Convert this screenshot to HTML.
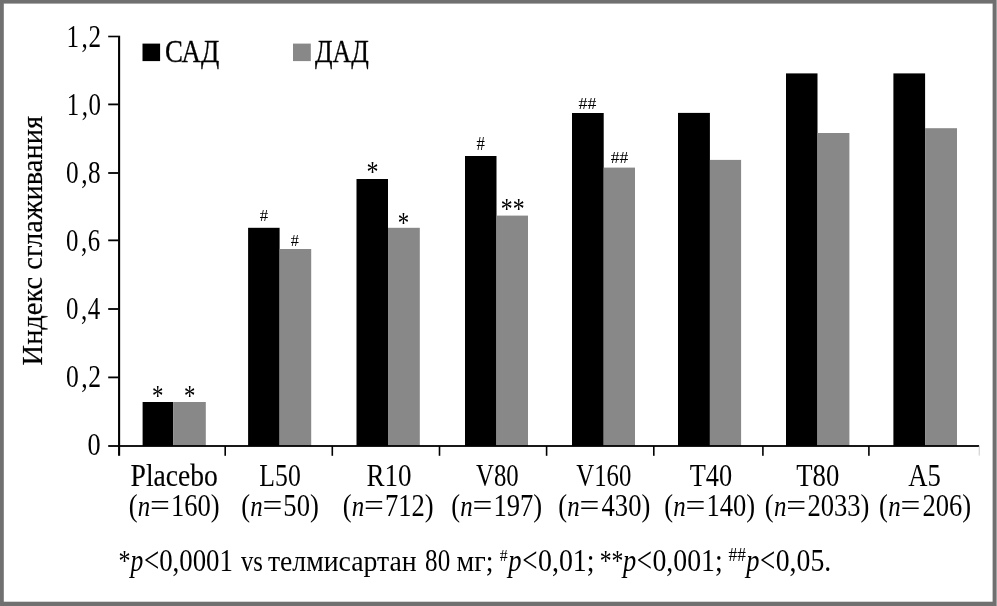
<!DOCTYPE html>
<html lang="ru"><head><meta charset="utf-8"><title>Индекс сглаживания</title>
<style>html,body{margin:0;padding:0;background:#fff}svg{display:block}</style></head>
<body>
<svg width="997" height="606" viewBox="0 0 997 606" font-family='"Liberation Serif", "Times New Roman", serif' fill="#000">
<rect x="0" y="0" width="997" height="606" fill="#707070"/>
<rect x="996" y="0" width="1" height="606" fill="#a3a3a3"/>
<rect x="3.8" y="3.6" width="988.8" height="598.1" fill="#fff"/>
<rect x="142.6" y="402.0" width="30.7" height="44.0" fill="#000"/>
<rect x="173.3" y="402.0" width="32.5" height="44.0" fill="#888"/>
<rect x="248.1" y="227.8" width="31.5" height="218.2" fill="#000"/>
<rect x="279.6" y="249.0" width="31.6" height="197.0" fill="#888"/>
<rect x="356.5" y="179.0" width="31.5" height="267.0" fill="#000"/>
<rect x="388.0" y="227.8" width="31.8" height="218.2" fill="#888"/>
<rect x="465.0" y="156.0" width="31.5" height="290.0" fill="#000"/>
<rect x="496.5" y="215.6" width="31.5" height="230.4" fill="#888"/>
<rect x="572.0" y="113.0" width="31.7" height="333.0" fill="#000"/>
<rect x="603.7" y="167.6" width="31.3" height="278.4" fill="#888"/>
<rect x="678.0" y="112.9" width="31.9" height="333.1" fill="#000"/>
<rect x="709.9" y="159.9" width="31.2" height="286.1" fill="#888"/>
<rect x="786.0" y="73.4" width="31.5" height="372.6" fill="#000"/>
<rect x="817.5" y="133.0" width="31.9" height="313.0" fill="#888"/>
<rect x="893.4" y="73.4" width="31.7" height="372.6" fill="#000"/>
<rect x="925.1" y="128.2" width="31.9" height="317.8" fill="#888"/>
<rect x="118.05" y="35.7" width="2.1" height="420.1" fill="#000"/>
<rect x="108.2" y="445.1" width="870.9" height="1.8" fill="#000"/>
<rect x="108.2" y="35.7" width="10" height="1.6" fill="#000"/>
<rect x="108.2" y="103.50" width="10" height="1.8" fill="#000"/>
<rect x="108.2" y="172.10" width="10" height="1.8" fill="#000"/>
<rect x="108.2" y="239.45" width="10" height="1.8" fill="#000"/>
<rect x="108.2" y="308.10" width="10" height="1.8" fill="#000"/>
<rect x="108.2" y="376.50" width="10" height="1.8" fill="#000"/>
<rect x="224.4" y="446" width="1.6" height="9.8" fill="#000"/>
<rect x="331.5" y="446" width="1.6" height="9.8" fill="#000"/>
<rect x="438.7" y="446" width="1.6" height="9.8" fill="#000"/>
<rect x="545.8" y="446" width="1.6" height="9.8" fill="#000"/>
<rect x="653.0" y="446" width="1.6" height="9.8" fill="#000"/>
<rect x="762.1" y="446" width="1.6" height="9.8" fill="#000"/>
<rect x="868.1" y="446" width="1.6" height="9.8" fill="#000"/>
<rect x="978.8" y="446" width="0.7" height="9.6" fill="#b4b4b4"/>
<rect x="142.5" y="43.6" width="17.6" height="17.5" fill="#000"/>
<rect x="293" y="43.6" width="17.8" height="17.5" fill="#888"/>
<text transform="translate(66.48,46.90) scale(0.7863,1)" font-size="32.00" dx="0 3.2 0.7">1,2</text>
<text transform="translate(66.76,114.80) scale(0.7775,1)" font-size="32.00" dx="0 3.2 0.7">1,0</text>
<text transform="translate(65.99,183.40) scale(0.7897,1)" font-size="32.00" dx="0 3.2 0.7">0,8</text>
<text transform="translate(66.00,250.80) scale(0.7764,1)" font-size="32.00" dx="0 3.2 0.7">0,6</text>
<text transform="translate(66.00,319.40) scale(0.7788,1)" font-size="32.00" dx="0 3.2 0.7">0,4</text>
<text transform="translate(65.97,387.40) scale(0.7997,1)" font-size="32.00" dx="0 3.2 0.7">0,2</text>
<text transform="translate(87.45,455.00) scale(0.8205,1)" font-size="32.00">0</text>
<text transform="translate(165.02,62.40) scale(0.8768,1)" font-size="30.60" stroke="#000" stroke-width="0.3">САД</text>
<text transform="translate(315.00,62.40) scale(0.8416,1)" font-size="30.60" stroke="#000" stroke-width="0.3">ДАД</text>
<text transform="translate(41.90,365.40) rotate(-90) scale(0.9485,1)" font-size="30.00" stroke="#000" stroke-width="0.2">Индекс сглаживания</text>
<text transform="translate(151.92,405.45) scale(0.7568,1)" font-size="30.20">*</text>
<text transform="translate(184.05,405.45) scale(0.7539,1)" font-size="30.20">*</text>
<text transform="translate(366.44,181.45) scale(0.7959,1)" font-size="30.20">*</text>
<text transform="translate(397.84,231.81) scale(0.7541,1)" font-size="30.21">*</text>
<text transform="translate(500.79,217.50) scale(0.8061,1)" font-size="29.51">**</text>
<text transform="translate(259.63,220.80) scale(0.9513,1)" font-size="17.62">#</text>
<text transform="translate(290.75,245.80) scale(0.9199,1)" font-size="17.62">#</text>
<text transform="translate(476.54,149.80) scale(0.9304,1)" font-size="18.00">#</text>
<text transform="translate(578.53,109.00) scale(1.0294,1)" font-size="17.24">##</text>
<text transform="translate(610.73,162.90) scale(1.0144,1)" font-size="17.24">##</text>
<text transform="translate(130.61,485.60) scale(0.8891,1)" font-size="31.00" stroke="#000" stroke-width="0.15">Placebo</text>
<text font-size="32.0"><tspan x="128.73" y="516.30" textLength="8.84" lengthAdjust="spacingAndGlyphs">(</tspan><tspan x="137.87" y="516.30" textLength="12.45" lengthAdjust="spacingAndGlyphs" font-size="30.00" font-style="italic">n</tspan><tspan x="150.14" y="516.30" textLength="19.88" lengthAdjust="spacingAndGlyphs">=</tspan><tspan x="170.89" y="516.30" textLength="48.68" lengthAdjust="spacingAndGlyphs">160)</tspan></text>
<text transform="translate(259.33,485.60) scale(0.8039,1)" font-size="32.00">L50</text>
<text font-size="32.0"><tspan x="241.23" y="516.30" textLength="8.84" lengthAdjust="spacingAndGlyphs">(</tspan><tspan x="250.37" y="516.30" textLength="12.45" lengthAdjust="spacingAndGlyphs" font-size="30.00" font-style="italic">n</tspan><tspan x="262.64" y="516.30" textLength="19.88" lengthAdjust="spacingAndGlyphs">=</tspan><tspan x="283.37" y="516.30" textLength="35.40" lengthAdjust="spacingAndGlyphs">50)</tspan></text>
<text transform="translate(366.40,485.60) scale(0.8462,1)" font-size="32.00">R10</text>
<text font-size="32.0"><tspan x="342.73" y="516.30" textLength="8.84" lengthAdjust="spacingAndGlyphs">(</tspan><tspan x="351.87" y="516.30" textLength="12.45" lengthAdjust="spacingAndGlyphs" font-size="30.00" font-style="italic">n</tspan><tspan x="364.14" y="516.30" textLength="19.88" lengthAdjust="spacingAndGlyphs">=</tspan><tspan x="384.99" y="516.30" textLength="48.68" lengthAdjust="spacingAndGlyphs">712)</tspan></text>
<text transform="translate(475.99,485.60) scale(0.7741,1)" font-size="32.00">V80</text>
<text font-size="32.0"><tspan x="451.13" y="516.30" textLength="8.84" lengthAdjust="spacingAndGlyphs">(</tspan><tspan x="460.27" y="516.30" textLength="12.45" lengthAdjust="spacingAndGlyphs" font-size="30.00" font-style="italic">n</tspan><tspan x="472.54" y="516.30" textLength="19.88" lengthAdjust="spacingAndGlyphs">=</tspan><tspan x="493.49" y="516.30" textLength="48.68" lengthAdjust="spacingAndGlyphs">197)</tspan></text>
<text transform="translate(576.28,485.60) scale(0.7740,1)" font-size="32.00">V160</text>
<text font-size="32.0"><tspan x="558.23" y="516.30" textLength="8.84" lengthAdjust="spacingAndGlyphs">(</tspan><tspan x="567.37" y="516.30" textLength="12.45" lengthAdjust="spacingAndGlyphs" font-size="30.00" font-style="italic">n</tspan><tspan x="579.64" y="516.30" textLength="19.88" lengthAdjust="spacingAndGlyphs">=</tspan><tspan x="601.59" y="516.30" textLength="48.68" lengthAdjust="spacingAndGlyphs">430)</tspan></text>
<text transform="translate(689.75,485.60) scale(0.8246,1)" font-size="32.00">T40</text>
<text font-size="32.0"><tspan x="664.13" y="516.30" textLength="8.84" lengthAdjust="spacingAndGlyphs">(</tspan><tspan x="673.27" y="516.30" textLength="12.45" lengthAdjust="spacingAndGlyphs" font-size="30.00" font-style="italic">n</tspan><tspan x="685.54" y="516.30" textLength="19.88" lengthAdjust="spacingAndGlyphs">=</tspan><tspan x="706.49" y="516.30" textLength="48.68" lengthAdjust="spacingAndGlyphs">140)</tspan></text>
<text transform="translate(796.24,485.60) scale(0.8347,1)" font-size="32.00">T80</text>
<text font-size="32.0"><tspan x="764.83" y="516.30" textLength="8.84" lengthAdjust="spacingAndGlyphs">(</tspan><tspan x="773.97" y="516.30" textLength="12.45" lengthAdjust="spacingAndGlyphs" font-size="30.00" font-style="italic">n</tspan><tspan x="786.24" y="516.30" textLength="19.88" lengthAdjust="spacingAndGlyphs">=</tspan><tspan x="807.51" y="516.30" textLength="61.96" lengthAdjust="spacingAndGlyphs">2033)</tspan></text>
<text transform="translate(908.27,485.60) scale(0.8334,1)" font-size="32.00">A5</text>
<text font-size="32.0"><tspan x="879.03" y="516.30" textLength="8.84" lengthAdjust="spacingAndGlyphs">(</tspan><tspan x="888.17" y="516.30" textLength="12.45" lengthAdjust="spacingAndGlyphs" font-size="30.00" font-style="italic">n</tspan><tspan x="900.44" y="516.30" textLength="19.88" lengthAdjust="spacingAndGlyphs">=</tspan><tspan x="922.39" y="516.30" textLength="48.68" lengthAdjust="spacingAndGlyphs">206)</tspan></text>
<text><tspan x="118.48" y="569.55" textLength="12.01" lengthAdjust="spacingAndGlyphs" font-size="30.20">*</tspan><tspan x="130.57" y="570.70" textLength="12.79" lengthAdjust="spacingAndGlyphs" font-size="30.50" font-style="italic">p</tspan><tspan x="143.99" y="571.80" textLength="15.27" lengthAdjust="spacingAndGlyphs" font-size="34.80">&lt;</tspan><tspan x="159.14" y="570.70" textLength="73.83" lengthAdjust="spacingAndGlyphs" font-size="32.00">0,0001</tspan> <tspan x="241.00" y="570.70" textLength="21.94" lengthAdjust="spacingAndGlyphs" font-size="29.70">vs</tspan> <tspan x="267.89" y="570.70" textLength="148.84" lengthAdjust="spacingAndGlyphs" font-size="29.70">телмисартан</tspan> <tspan x="425.12" y="570.70" textLength="25.06" lengthAdjust="spacingAndGlyphs" font-size="32.00">80</tspan> <tspan x="456.62" y="570.70" textLength="36.92" lengthAdjust="spacingAndGlyphs" font-size="29.70">мг;</tspan> <tspan x="499.84" y="560.80" textLength="7.89" lengthAdjust="spacingAndGlyphs" font-size="17.12">#</tspan><tspan x="508.33" y="570.70" textLength="13.29" lengthAdjust="spacingAndGlyphs" font-size="30.50" font-style="italic">p</tspan><tspan x="522.31" y="571.80" textLength="15.27" lengthAdjust="spacingAndGlyphs" font-size="34.80">&lt;</tspan><tspan x="538.00" y="570.70" textLength="56.54" lengthAdjust="spacingAndGlyphs" font-size="32.00">0,01;</tspan> <tspan x="599.70" y="569.90" textLength="23.75" lengthAdjust="spacingAndGlyphs" font-size="30.21">**</tspan><tspan x="622.93" y="570.70" textLength="13.23" lengthAdjust="spacingAndGlyphs" font-size="30.50" font-style="italic">p</tspan><tspan x="636.85" y="571.80" textLength="15.27" lengthAdjust="spacingAndGlyphs" font-size="34.80">&lt;</tspan><tspan x="652.48" y="570.70" textLength="70.19" lengthAdjust="spacingAndGlyphs" font-size="32.00">0,001;</tspan> <tspan x="728.61" y="561.00" textLength="17.31" lengthAdjust="spacingAndGlyphs" font-size="17.88">##</tspan><tspan x="746.21" y="570.70" textLength="13.22" lengthAdjust="spacingAndGlyphs" font-size="30.50" font-style="italic">p</tspan><tspan x="760.11" y="571.80" textLength="15.27" lengthAdjust="spacingAndGlyphs" font-size="34.80">&lt;</tspan><tspan x="775.72" y="570.70" textLength="55.47" lengthAdjust="spacingAndGlyphs" font-size="32.00">0,05.</tspan></text>
</svg>
</body></html>
